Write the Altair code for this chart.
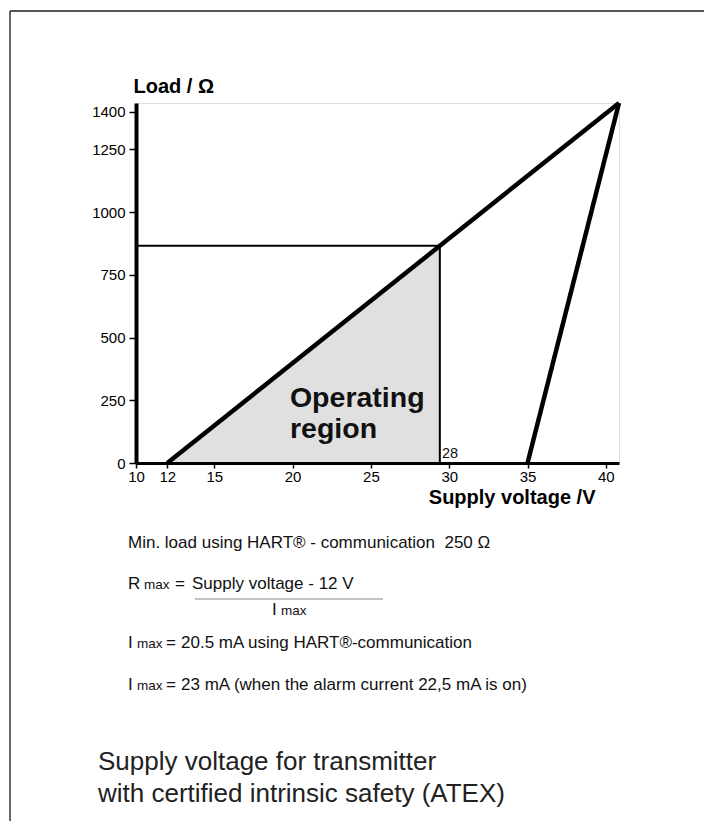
import altair as alt
import pandas as pd

# ---------------- data ----------------
x_ticks = [10, 12, 15, 20, 25, 30, 35, 40]
y_ticks = [0, 250, 500, 750, 1000, 1250, 1400]
x_domain = [10, 40.84]
y_domain = [0, 1435]

# boundary lines: supply voltage (V) vs load (Ω)
upper_v = [12, 40.84]
upper_r = [0, 1435]
right_v = [35, 40.84]
right_r = [0, 1435]

# operating region (shaded triangle)
op_v = [12, 29.4]
op_r = [0, 866]
marker_v = 29.4
marker_r = 866
marker_label = "28"

region_text = ["Operating", "region"]
region_v = [19.83, 19.83]
region_r = [224, 101]

# notes below the chart: (text, x, baseline y, font size) in page pixels
notes_text = [
    "Min. load using HART® - communication \u00a0250 Ω",
    "R", "max", "=", "Supply voltage - 12 V",
    "I", "max",
    "I", "max", "=", "20.5 mA using HART®-communication",
    "I", "max", "=", "23 mA (when the alarm current 22,5 mA is on)",
]
notes_px = [128, 128, 144, 175, 192, 272, 281, 128, 137, 166, 181, 128, 137, 166, 181]
notes_py = [548, 589, 589, 589, 589, 615, 615, 648, 648, 648, 648, 690, 690, 690, 690]
notes_size = [17, 17, 13.5, 17, 17, 17, 13.5, 17, 13.5, 17, 17, 17, 13.5, 17, 17]

title_lines = ["Supply voltage for transmitter", "with certified intrinsic safety (ATEX)"]
title_px = [98, 98]
title_py = [770, 802]

# ---------------- layout ----------------
OX, OY = 136, 103   # plot-area origin on the page
W, H = 483, 360
FONT = "Liberation Sans"

xs = alt.Scale(domain=x_domain, nice=False, zero=False)
ys = alt.Scale(domain=y_domain, nice=False, zero=False)

x_axis = alt.Axis(values=x_ticks, format="d", labelFontSize=15, labelColor="black",
                  labelFont=FONT, tickColor="black", tickSize=5, tickWidth=1.5,
                  domainColor="black", domainWidth=3, grid=False, labelPadding=1,
                  labelFlush=False, labelOverlap=False,
                  title="Supply voltage /V", titleFont=FONT, titleFontSize=20,
                  titleFontWeight="bold", titleColor="black", titleAlign="right",
                  titleAnchor="start", titleX=459, titleY=40, titleBaseline="alphabetic",
                  zindex=1)
y_axis = alt.Axis(values=y_ticks, format="d", labelFontSize=15, labelColor="black",
                  labelFont=FONT, tickColor="black", tickSize=7, tickWidth=1.5,
                  domainColor="black", domainWidth=4, grid=False, labelPadding=4,
                  labelFlush=False, labelOverlap=False,
                  title="Load / Ω", titleFont=FONT, titleFontSize=20, titleFontWeight="bold",
                  titleColor="black", titleAngle=0, titleAlign="left", titleAnchor="start",
                  titleBaseline="alphabetic", titleX=-3, titleY=-11, zindex=1)


def X(field):
    return alt.X(field, scale=xs, axis=x_axis)


def Y(field):
    return alt.Y(field, scale=ys, axis=y_axis)


op_df = pd.DataFrame({"v": op_v, "r": op_r})
area = alt.Chart(op_df).mark_area(color="#e0e0e0", opacity=1).encode(
    x=X("v:Q"), y=Y("r:Q"), y2=alt.datum(0))

hrule = alt.Chart(pd.DataFrame({"v": [x_domain[0]], "v1": [marker_v], "r": [marker_r]})).mark_rule(
    color="black", strokeWidth=2).encode(x=X("v:Q"), x2="v1:Q", y=Y("r:Q"))

vrule = alt.Chart(pd.DataFrame({"v": [marker_v], "r": [0], "r1": [marker_r]})).mark_rule(
    color="black", strokeWidth=2).encode(x=X("v:Q"), y=Y("r:Q"), y2="r1:Q")

lines_df = pd.DataFrame({
    "series": ["upper"] * len(upper_v) + ["right"] * len(right_v),
    "v": upper_v + right_v,
    "r": upper_r + right_r,
})
lines = alt.Chart(lines_df).mark_line(color="black", strokeWidth=4.5, strokeJoin="miter").encode(
    x=X("v:Q"), y=Y("r:Q"), detail="series:N")

region = alt.Chart(pd.DataFrame({"t": region_text, "v": region_v, "r": region_r})).mark_text(
    font=FONT, fontSize=28.5, fontWeight="bold", color="#111", align="left",
    baseline="alphabetic").encode(x=X("v:Q"), y=Y("r:Q"), text="t:N")

marker_txt = alt.Chart(pd.DataFrame({"t": [marker_label], "v": [29.54], "r": [21]})).mark_text(
    font=FONT, fontSize=14.5, color="#111", align="left", baseline="alphabetic").encode(
    x=X("v:Q"), y=Y("r:Q"), text="t:N")

# ---------------- page decorations (pixel positions) ----------------
one = pd.DataFrame({"a": [0]})


def px_text(text, px, py, size, color="#111"):
    return alt.Chart(one).mark_text(text=text, font=FONT, fontSize=size, color=color,
                                    align="left", baseline="alphabetic").encode(
        x=alt.value(px - OX), y=alt.value(py - OY))


deco = []
for t, px, py, s in zip(notes_text, notes_px, notes_py, notes_size):
    deco.append(px_text(t, px, py, s))
for t, px, py in zip(title_lines, title_px, title_py):
    deco.append(px_text(t, px, py, 26, color="#222"))

deco.append(alt.Chart(one).mark_rule(color="#888", strokeWidth=1).encode(
    x=alt.value(195 - OX), x2=alt.value(383 - OX), y=alt.value(599 - OY)))
deco.append(alt.Chart(one).mark_rule(color="#555", strokeWidth=2).encode(
    x=alt.value(10 - OX), x2=alt.value(712 - OX), y=alt.value(11 - OY)))
deco.append(alt.Chart(one).mark_rule(color="#333", strokeWidth=1.5).encode(
    x=alt.value(10 - OX), y=alt.value(11 - OY), y2=alt.value(829 - OY)))

chart = alt.layer(area, hrule, vrule, lines, region, marker_txt, *deco).properties(
    width=W, height=H,
    autosize=alt.AutoSizeParams(type="none"),
    padding={"left": OX - 8, "top": OY - 8, "right": 696 - (OX - 8) - W, "bottom": 813 - (OY - 8) - H},
).configure_view(stroke="#444", strokeWidth=1.5).configure(background="white")

chart.save("out.html", embed_options={"renderer": "svg", "actions": False})
